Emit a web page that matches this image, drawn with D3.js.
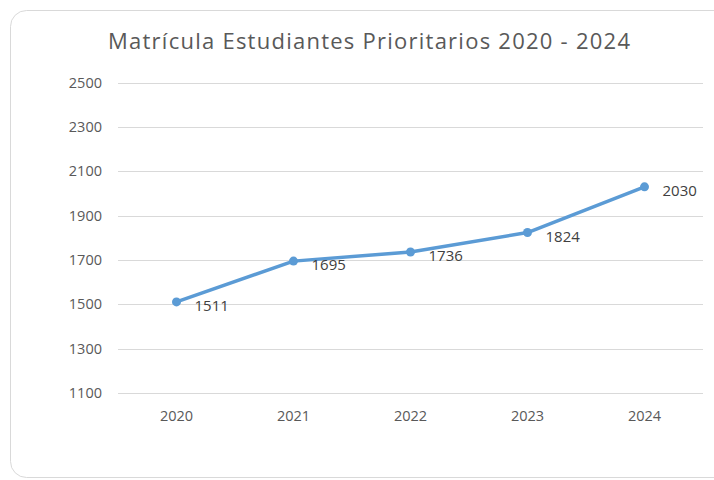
<!DOCTYPE html>
<html>
<head>
<meta charset="utf-8">
<script src="https://cdn.jsdelivr.net/npm/d3@7"></script>
<style>
  html, body { margin: 0; padding: 0; background: #fff; }
  svg { display: block; }
</style>
</head>
<body>
<div id="chart"></div>
<script>
// Chart data
const years = ['2020', '2021', '2022', '2023', '2024'];
const enrolment = [1511, 1695, 1736, 1824, 2030];
const yTicks = [1100, 1300, 1500, 1700, 1900, 2100, 2300, 2500];
const title = 'Matrícula Estudiantes Prioritarios 2020 - 2024';

const width = 714, height = 480;
const font = '"Open Sans", "Noto Sans", sans-serif';
const textColor = '#595959';
const lineColor = '#5B9BD5';

const svg = d3.select('#chart').append('svg')
    .attr('width', width)
    .attr('height', height);

// Chart frame (rounded border)
svg.append('rect')
    .attr('x', 10.5).attr('y', 10.5)
    .attr('width', 730).attr('height', 467)
    .attr('rx', 16)
    .attr('fill', '#fff')
    .attr('stroke', '#d9d9d9');

// Scales
const x = d3.scaleBand().domain(years).range([118, 703]);
const y = d3.scaleLinear().domain([1100, 2500]).range([393, 82.7]);

// Title
const titleText = svg.append('text')
    .attr('x', 369).attr('y', 48.5)
    .attr('text-anchor', 'middle')
    .attr('font-family', font)
    .attr('font-size', 22)
    .attr('fill', textColor)
    .text(title);
if (titleText.node().getComputedTextLength() < 522) {
    titleText.attr('textLength', 522).attr('lengthAdjust', 'spacing');
}

// Gridlines
svg.append('g')
    .selectAll('line')
    .data(yTicks)
    .join('line')
    .attr('x1', 118).attr('x2', 703)
    .attr('y1', d => Math.round(y(d)) + 0.5)
    .attr('y2', d => Math.round(y(d)) + 0.5)
    .attr('stroke', '#d9d9d9')
    .attr('stroke-width', 1);

// Y axis labels
const yAxis = svg.append('g')
    .attr('transform', 'translate(118,0)')
    .call(d3.axisLeft(y).tickValues(yTicks).tickSize(0).tickPadding(16).tickFormat(d3.format('d')));
yAxis.select('.domain').remove();
yAxis.selectAll('text')
    .attr('font-family', font)
    .attr('font-size', 14.5)
    .attr('fill', textColor);

// X axis labels
const xAxis = svg.append('g')
    .attr('transform', 'translate(0,393)')
    .call(d3.axisBottom(x).tickSize(0).tickPadding(18));
xAxis.select('.domain').remove();
xAxis.selectAll('text')
    .attr('font-family', font)
    .attr('font-size', 14.5)
    .attr('fill', textColor);

const points = years.map((yr, i) => ({ year: yr, value: enrolment[i] }));
const cx = d => x(d.year) + x.bandwidth() / 2;

// Line
svg.append('path')
    .datum(points)
    .attr('fill', 'none')
    .attr('stroke', lineColor)
    .attr('stroke-width', 3.5)
    .attr('stroke-linejoin', 'round')
    .attr('stroke-linecap', 'round')
    .attr('d', d3.line().x(cx).y(d => y(d.value)));

// Markers
svg.append('g')
    .selectAll('circle')
    .data(points)
    .join('circle')
    .attr('cx', cx)
    .attr('cy', d => y(d.value))
    .attr('r', 4.5)
    .attr('fill', lineColor);

// Data labels
svg.append('g')
    .selectAll('text')
    .data(points)
    .join('text')
    .attr('x', d => cx(d) + 18)
    .attr('y', d => y(d.value) + 9)
    .attr('font-family', font)
    .attr('font-size', 15)
    .attr('fill', '#404040')
    .text(d => d.value);
</script>
</body>
</html>
